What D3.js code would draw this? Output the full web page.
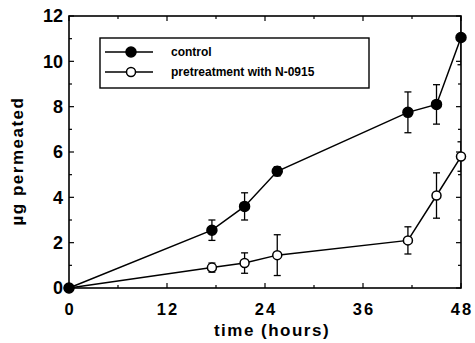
<!DOCTYPE html>
<html>
<head>
<meta charset="utf-8">
<script src="https://cdn.jsdelivr.net/npm/d3@7"></script>
<style>
  body { margin: 0; background: #fff; }
  text { font-family: "Liberation Sans", Arial, sans-serif; font-weight: bold; fill: #000; }
</style>
</head>
<body>
<script>
// data
const hours = [0, 17.5, 21.5, 25.5, 41.5, 45, 48];
const control = [0, 2.55, 3.6, 5.15, 7.75, 8.1, 11.05];
const controlErr = [0, 0.45, 0.6, 0.2, 0.9, 0.87, 1.2];
const pretreat = [0, 0.9, 1.1, 1.45, 2.1, 4.08, 5.8];
const pretreatErr = [0, 0.2, 0.45, 0.9, 0.6, 1.0, 0.65];
const xTicks = [0, 12, 24, 36, 48];
const yTicks = [0, 2, 4, 6, 8, 10, 12];
const seriesNames = ['control', 'pretreatment with N-0915'];

const width = 475, height = 343;
const margin = { left: 69, right: 14, top: 16, bottom: 55 };

const svg = d3.select('body').append('svg')
  .attr('width', width)
  .attr('height', height);

const x = d3.scaleLinear().domain([0, 48]).range([margin.left, width - margin.right]);
const y = d3.scaleLinear().domain([0, 12]).range([height - margin.bottom, margin.top]);

svg.append('clipPath').attr('id', 'plot')
  .append('rect')
  .attr('x', x(0)).attr('y', y(12))
  .attr('width', x(48) - x(0)).attr('height', y(0) - y(12));

// ticks on all sides, pointing inward
const minorX = d3.range(0, 49, 6);
const minorY = d3.range(0, 13, 1);

const ticks = svg.append('g').attr('stroke', '#000').attr('stroke-width', 1.2);
minorX.forEach(v => {
  const len = v % 12 === 0 ? 5 : 3;
  ticks.append('line').attr('x1', x(v)).attr('x2', x(v)).attr('y1', y(0)).attr('y2', y(0) - len);
  ticks.append('line').attr('x1', x(v)).attr('x2', x(v)).attr('y1', y(12)).attr('y2', y(12) + len);
});
minorY.forEach(v => {
  const len = v % 2 === 0 ? 5 : 3;
  ticks.append('line').attr('x1', x(0)).attr('x2', x(0) + len).attr('y1', y(v)).attr('y2', y(v));
  ticks.append('line').attr('x1', x(48)).attr('x2', x(48) - len).attr('y1', y(v)).attr('y2', y(v));
});

// frame
svg.append('rect')
  .attr('x', x(0)).attr('y', y(12))
  .attr('width', x(48) - x(0)).attr('height', y(0) - y(12))
  .attr('fill', 'none').attr('stroke', '#000').attr('stroke-width', 1.6);

// tick labels
svg.append('g').selectAll('text')
  .data(yTicks).enter().append('text')
  .attr('x', x(0) - 6)
  .attr('y', d => y(d))
  .attr('dy', '0.36em')
  .attr('text-anchor', 'end')
  .style('font-size', '18px')
  .text(d => d);

svg.append('g').selectAll('text')
  .data(xTicks).enter().append('text')
  .attr('x', x => 0)
  .attr('transform', d => 'translate(' + (x(d) + 1) + ',315)')
  .attr('text-anchor', 'middle')
  .style('font-size', '16.5px')
  .style('letter-spacing', '2px')
  .text(d => d);

// axis titles
svg.append('text')
  .attr('x', (x(0) + x(48)) / 2 + 7)
  .attr('y', 336)
  .attr('text-anchor', 'middle')
  .style('font-size', '17px')
  .style('letter-spacing', '1.5px')
  .text('time (hours)');

svg.append('text')
  .attr('transform', 'translate(23,' + 161 + ') rotate(-90)')
  .attr('text-anchor', 'middle')
  .style('font-size', '17px')
  .style('letter-spacing', '1.5px')
  .text('µg permeated');

// series
function drawSeries(vals, errs, filled) {
  const pts = hours.map((h, i) => ({ h: h, v: vals[i], e: errs[i] }));
  const g = svg.append('g');
  const eb = g.append('g').attr('clip-path', 'url(#plot)')
    .attr('stroke', '#000').attr('stroke-width', 1.3);
  pts.filter(d => d.e > 0).forEach(d => {
    eb.append('line').attr('x1', x(d.h)).attr('x2', x(d.h)).attr('y1', y(d.v - d.e)).attr('y2', y(d.v + d.e));
    [d.v - d.e, d.v + d.e].forEach(c => {
      eb.append('line').attr('x1', x(d.h) - 3.5).attr('x2', x(d.h) + 3.5).attr('y1', y(c)).attr('y2', y(c));
    });
  });
  g.append('path')
    .datum(pts)
    .attr('fill', 'none').attr('stroke', '#000').attr('stroke-width', 1.5)
    .attr('d', d3.line().x(d => x(d.h)).y(d => y(d.v)));
  g.selectAll('circle').data(pts).enter().append('circle')
    .attr('cx', d => x(d.h)).attr('cy', d => y(d.v))
    .attr('r', filled ? 5 : 4.5)
    .attr('fill', filled ? '#000' : '#fff')
    .attr('stroke', '#000').attr('stroke-width', 1.5);
}
drawSeries(pretreat, pretreatErr, false);
drawSeries(control, controlErr, true);

// legend
const lg = svg.append('g');
lg.append('rect')
  .attr('x', 100).attr('y', 38).attr('width', 269).attr('height', 50)
  .attr('fill', '#fff').attr('stroke', '#000').attr('stroke-width', 1.4);
seriesNames.forEach((name, i) => {
  const yy = 52 + i * 20;
  lg.append('line').attr('x1', 105).attr('x2', 153).attr('y1', yy).attr('y2', yy)
    .attr('stroke', '#000').attr('stroke-width', 1.5);
  lg.append('circle').attr('cx', 131).attr('cy', yy).attr('r', i === 0 ? 5 : 4.5)
    .attr('fill', i === 0 ? '#000' : '#fff').attr('stroke', '#000').attr('stroke-width', 1.5);
  lg.append('text').attr('x', 171).attr('y', yy).attr('dy', '0.35em')
    .style('font-size', '12px')
    .text(name);
});
</script>
</body>
</html>
